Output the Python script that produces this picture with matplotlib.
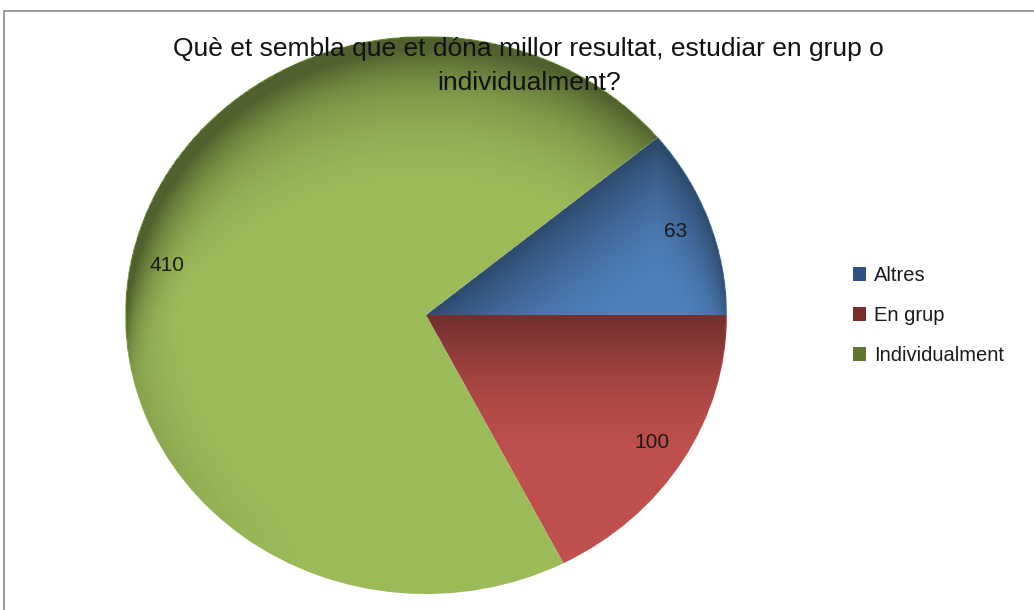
import numpy as np
import matplotlib.pyplot as plt
from matplotlib.patches import Rectangle

# chart data
categories = ['Altres', 'En grup', 'Individualment']
values = [63, 100, 410]
colors = ['#4F81BD', '#C0504D', '#9BBB59']
legend_colors = ['#2E5282', '#7A2E2C', '#5E7632']
title_lines = ['Què et sembla que et dóna millor resultat, estudiar en grup o',
               'individualment?']

plt.rcParams['font.family'] = ['Liberation Sans', 'DejaVu Sans']

fig = plt.figure(figsize=(10.34, 6.10), dpi=100)
W, H = 1034, 610

# frame of the chart area (cut off at right and bottom in the original)
fig.patches.append(Rectangle((4 / W, -0.1), 1.2, 1.1 - 11 / H, transform=fig.transFigure,
                             fill=False, edgecolor='#8a8a8a', linewidth=1.2))

# pie is slightly squashed vertically, so axes aspect is left free
ax = fig.add_axes([125 / W, (H - 594) / H, 602 / W, 558 / H])
start = values[0] / sum(values) * 360
wedges, texts, autotexts = ax.pie(values, colors=colors, startangle=start, counterclock=False,
                                  autopct=lambda p: '%d' % round(p * sum(values) / 100),
                                  pctdistance=0.88, radius=1.0,
                                  wedgeprops=dict(linewidth=0),
                                  textprops=dict(fontsize=15, color='#1a1a1a'))
for t in autotexts:
    t.set_zorder(5)

# rough imitation of the Excel 2007 shading: dark at the top of each slice and along the upper rim
n = 500
gx = np.linspace(-1, 1, n)
X, Y = np.meshgrid(gx, gx)
R = np.hypot(X, Y) + 1e-9
ANG = np.degrees(np.arctan2(Y, X))
rim_w = np.clip(0.6 * Y / R - 0.6 * X / R + 0.3, 0, 1)
rim = np.clip(1 - (1 - R) / 0.22, 0, 1) ** 2 * rim_w
for w in wedges:
    t1, t2 = w.theta1, w.theta2
    mask = (((ANG - t1) % 360) <= (t2 - t1)) & (R <= 1)
    ytop = np.where(mask, Y, -np.inf).max(axis=0)
    dist = np.where(np.isfinite(ytop)[None, :], ytop[None, :] - Y, 9)
    alpha = 0.42 * np.clip(1 - dist / 0.55, 0, 1) ** 1.8 + 0.2 * rim
    alpha = np.clip(np.where(mask, alpha, 0), 0, 0.48)
    rgba = np.zeros((n, n, 4))
    rgba[..., 3] = alpha
    im = ax.imshow(rgba, extent=(-1, 1, -1, 1), origin='lower', aspect='auto',
                   interpolation='bilinear', zorder=2)
    im.set_clip_path(w)

ax.set_aspect('auto')
ax.set_xlim(-1, 1)
ax.set_ylim(-1, 1)
ax.axis('off')

# title drawn over the pie
fig.text(528 / W, 1 - 56 / H, title_lines[0], ha='center', va='baseline', fontsize=19,
         color='#111111', zorder=10)
fig.text(529 / W, 1 - 90 / H, title_lines[1], ha='center', va='baseline', fontsize=19,
         color='#111111', zorder=10)

leg = fig.legend(wedges, categories, loc='upper left', bbox_to_anchor=(853 / W, 1 - 266 / H),
                 frameon=False, fontsize=14.5, handlelength=0.65, handleheight=0.65,
                 handletextpad=0.4, labelspacing=1.05, borderpad=0, borderaxespad=0)
for t in leg.get_texts():
    t.set_color('#1a1a1a')
for h, c in zip(leg.legend_handles, legend_colors):
    h.set_facecolor(c)

fig.savefig('out.png', dpi=100)
